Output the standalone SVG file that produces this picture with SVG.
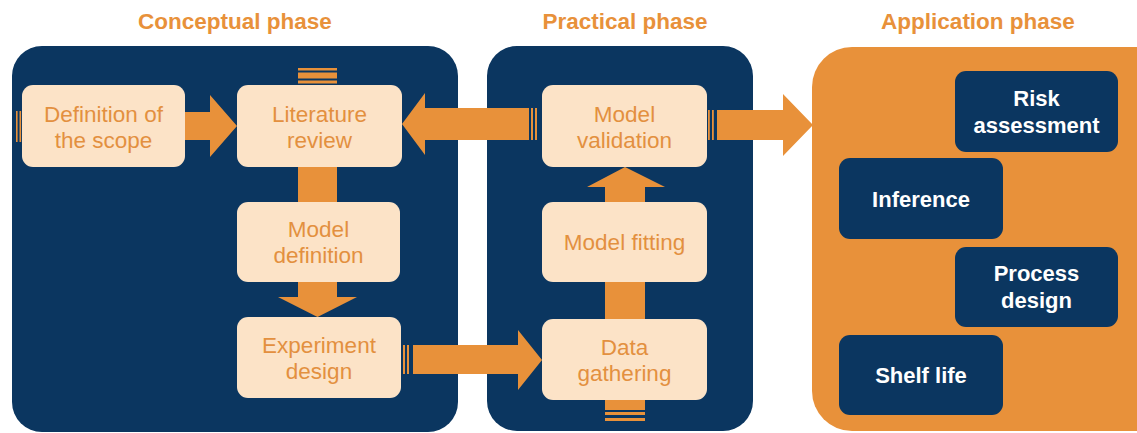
<svg xmlns="http://www.w3.org/2000/svg" width="1137" height="433" viewBox="0 0 1137 433">
<style>
.title{font-family:"Liberation Sans",Arial,sans-serif;font-weight:bold;font-size:22.5px;fill:#E8913A;text-anchor:middle}
.panel{fill:#0B3660}
.app{fill:#E8913A}
.step{fill:#FCE3C7}
.st{font-family:"Liberation Sans",Arial,sans-serif;font-size:22.5px;fill:#E3903F;text-anchor:middle}
.appbox{fill:#0B3660}
.at{font-family:"Liberation Sans",Arial,sans-serif;font-weight:bold;font-size:22px;fill:#FFFFFF;text-anchor:middle}
.arr{fill:#E8913A}
</style>
<rect width="1137" height="433" fill="#FFFFFF"/>
<text class="title" x="235" y="29">Conceptual phase</text>
<text class="title" x="625" y="29">Practical phase</text>
<text class="title" x="978" y="29">Application phase</text>
<g id="panels">
<rect class="panel" x="12" y="46" width="446" height="386" rx="30"/>
<rect class="panel" x="487" y="46" width="266" height="385" rx="30"/>
<rect class="app" x="812" y="47" width="370" height="384" rx="40"/>
</g>
<g id="connectors">
<rect class="arr" x="16" y="111" width="1.6" height="31"/>
<rect class="arr" x="19.5" y="111" width="1.6" height="31"/>
<polygon class="arr" points="185,112 210,112 210,95 237,126 210,157 210,140 185,140"/>
<polygon class="arr" points="529,108 425,108 425,93 402,124 425,155 425,140 529,140"/>
<rect class="arr" x="531" y="108" width="2" height="32"/>
<rect class="arr" x="535" y="108" width="2" height="32"/>
<rect class="arr" x="708" y="110" width="1.8" height="30"/>
<rect class="arr" x="712" y="110" width="1.8" height="30"/>
<polygon class="arr" points="717,110 783,110 783,94 813,125 783,156 783,140 717,140"/>
<rect class="arr" x="298" y="68" width="39" height="2.5"/>
<rect class="arr" x="298" y="72.5" width="39" height="6"/>
<rect class="arr" x="298" y="80.5" width="39" height="3"/>
<rect class="arr" x="298" y="165" width="39" height="39"/>
<polygon class="arr" points="298,280 337,280 337,297 357,297 317.5,317 278,297 298,297"/>
<rect class="arr" x="403" y="345" width="2" height="29"/>
<rect class="arr" x="407" y="345" width="2" height="29"/>
<polygon class="arr" points="413,345 518,345 518,330 542,360 518,390 518,374 413,374"/>
<rect class="arr" x="605" y="280" width="40" height="41"/>
<polygon class="arr" points="605,204 605,187 587,187 625,167 665,187 645,187 645,204"/>
<rect class="arr" x="605" y="398" width="40" height="12"/>
<rect class="arr" x="605" y="412" width="40" height="3"/>
<rect class="arr" x="605" y="418" width="40" height="3"/>
</g>
<g id="definition-scope">
<rect class="step" x="22" y="85" width="163" height="82" rx="11"/>
<text class="st" x="103.5" y="122">Definition of</text>
<text class="st" x="103.5" y="148">the scope</text>
</g>
<g id="literature-review">
<rect class="step" x="237" y="85" width="165" height="82" rx="11"/>
<text class="st" x="319.5" y="122">Literature</text>
<text class="st" x="319.5" y="148">review</text>
</g>
<g id="model-definition">
<rect class="step" x="237" y="202" width="163" height="80" rx="11"/>
<text class="st" x="318.5" y="237">Model</text>
<text class="st" x="318.5" y="263">definition</text>
</g>
<g id="experiment-design">
<rect class="step" x="237" y="317" width="164" height="81" rx="11"/>
<text class="st" x="319" y="353">Experiment</text>
<text class="st" x="319" y="379">design</text>
</g>
<g id="model-validation">
<rect class="step" x="542" y="85" width="165" height="82" rx="11"/>
<text class="st" x="624.5" y="122">Model</text>
<text class="st" x="624.5" y="148">validation</text>
</g>
<g id="model-fitting">
<rect class="step" x="542" y="202" width="165" height="80" rx="11"/>
<text class="st" x="624.5" y="250">Model fitting</text>
</g>
<g id="data-gathering">
<rect class="step" x="542" y="319" width="165" height="81" rx="11"/>
<text class="st" x="624.5" y="355">Data</text>
<text class="st" x="624.5" y="381">gathering</text>
</g>
<g id="risk-assessment">
<rect class="appbox" x="955" y="71" width="163" height="81" rx="11"/>
<text class="at" x="1036.5" y="106">Risk</text>
<text class="at" x="1036.5" y="133">assessment</text>
</g>
<g id="inference">
<rect class="appbox" x="839" y="158" width="164" height="81" rx="11"/>
<text class="at" x="921" y="207">Inference</text>
</g>
<g id="process-design">
<rect class="appbox" x="955" y="247" width="163" height="80" rx="11"/>
<text class="at" x="1036.5" y="281">Process</text>
<text class="at" x="1036.5" y="308">design</text>
</g>
<g id="shelf-life">
<rect class="appbox" x="839" y="335" width="164" height="80" rx="11"/>
<text class="at" x="921" y="383">Shelf life</text>
</g>
</svg>
